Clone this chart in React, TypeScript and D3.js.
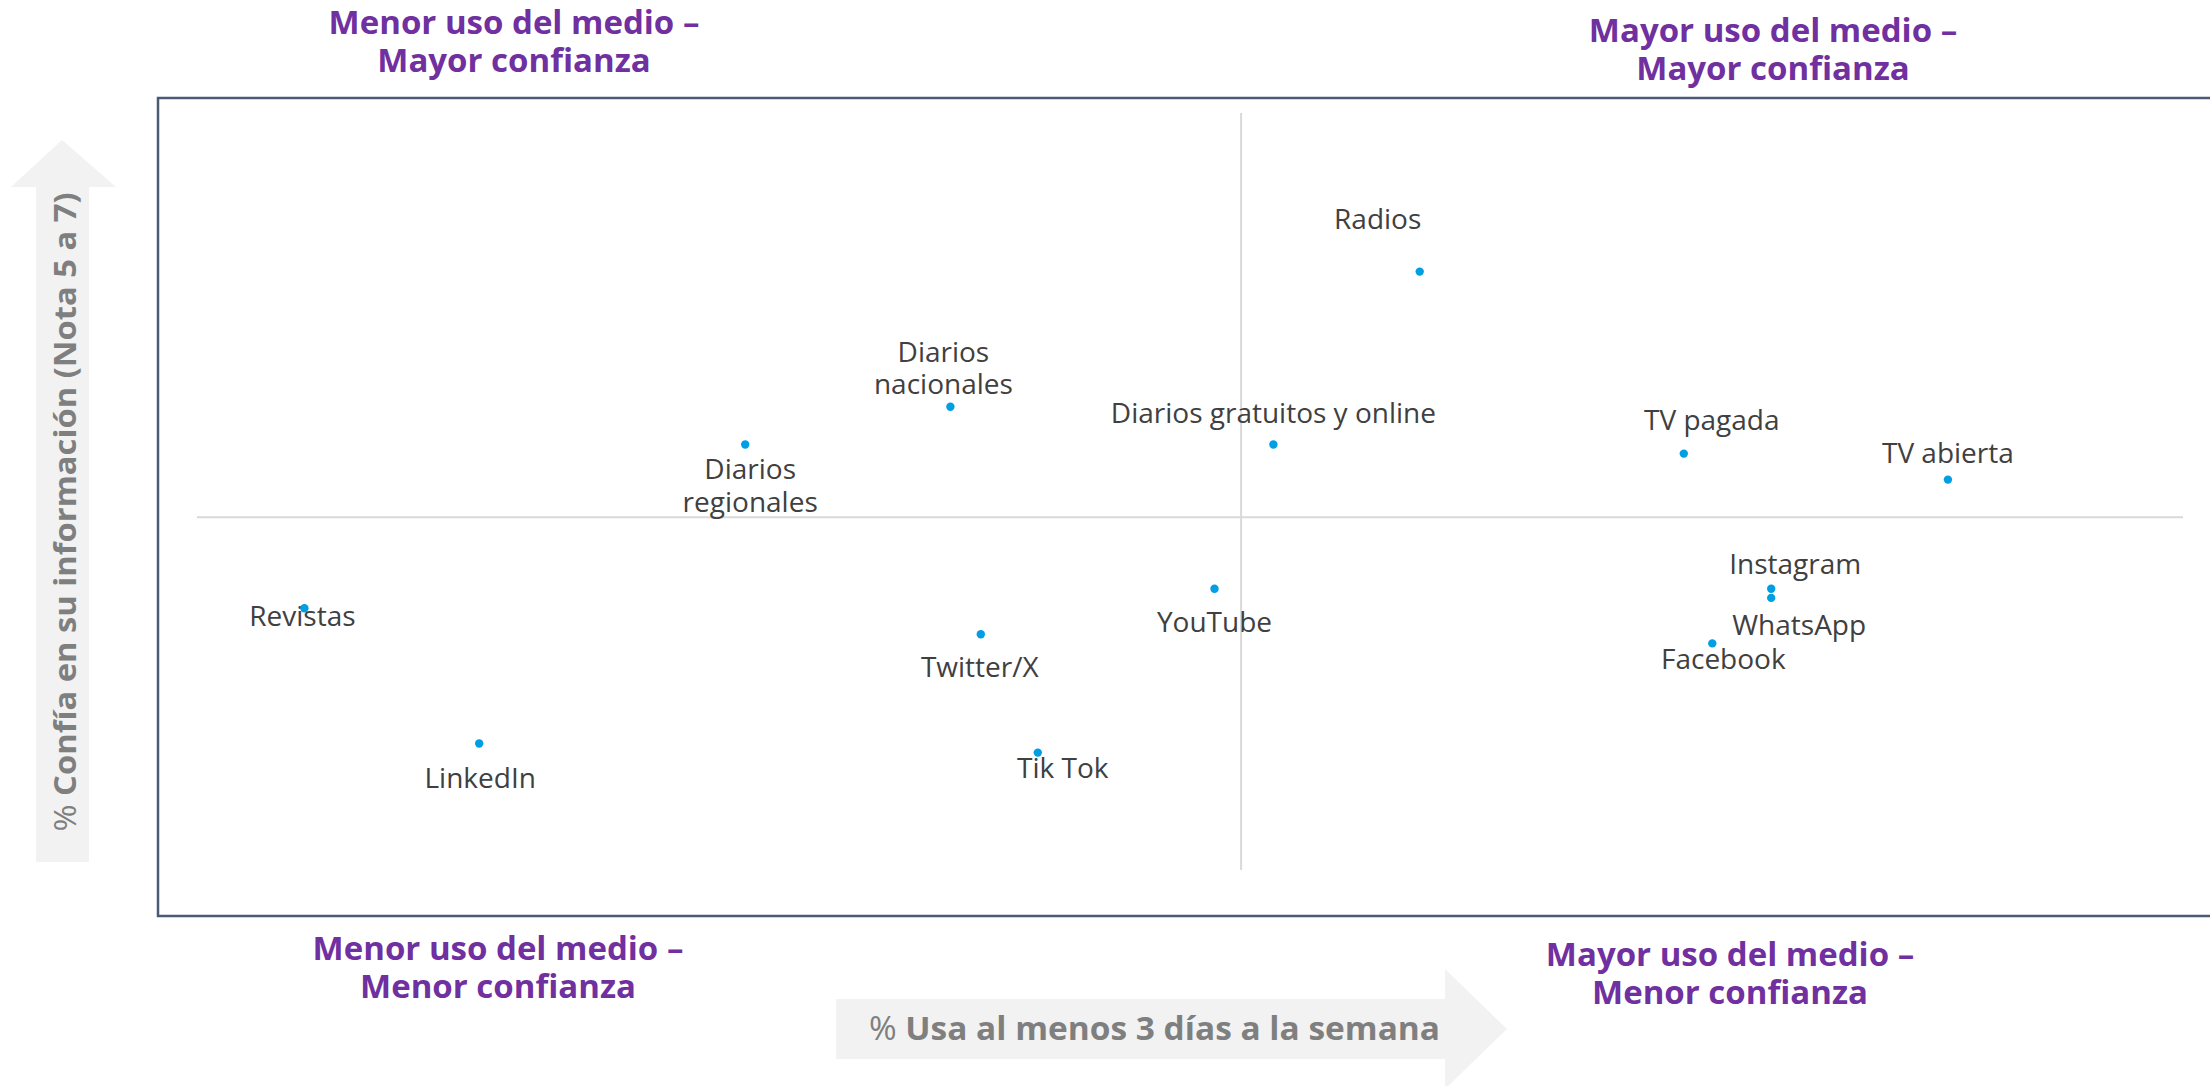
import React from 'react';
import * as d3 from 'd3';

// media names, % usage (>= 3 days a week) and % trust (grade 5 to 7)
const medios = [
  'Radios',
  'Diarios gratuitos y online',
  'TV pagada',
  'TV abierta',
  'Diarios nacionales',
  'Diarios regionales',
  'Instagram',
  'WhatsApp',
  'Facebook',
  'YouTube',
  'Twitter/X',
  'Revistas',
  'LinkedIn',
  'Tik Tok',
];
const usoValues = [66.3, 58.6, 80.2, 94.1, 41.6, 30.8, 84.8, 84.8, 81.7, 55.5, 43.2, 7.6, 16.8, 46.2];
const confianzaValues = [66.8, 53.5, 52.8, 50.8, 56.4, 53.5, 42.4, 41.7, 38.2, 42.4, 38.9, 40.9, 30.5, 29.8];

// reference lines that split the quadrants
const usoRef = 56.9;
const confianzaRef = 47.9;

const quadrantTitles = [
  { lines: ['Menor uso del medio –', 'Mayor confianza'], cx: 514, y: 34 },
  { lines: ['Mayor uso del medio –', 'Mayor confianza'], cx: 1773, y: 42 },
  { lines: ['Menor uso del medio –', 'Menor confianza'], cx: 498, y: 960 },
  { lines: ['Mayor uso del medio –', 'Menor confianza'], cx: 1730, y: 966 },
];

// label placement relative to its dot (px)
const labelLayout: Record<string, { dx: number; dy: number[]; lines?: string[] }> = {
  'Radios': { dx: -42, dy: [-43] },
  'Diarios gratuitos y online': { dx: 0, dy: [-22] },
  'TV pagada': { dx: 28, dy: [-24] },
  'TV abierta': { dx: 0, dy: [-17] },
  'Diarios nacionales': { dx: -7, dy: [-45, -13], lines: ['Diarios', 'nacionales'] },
  'Diarios regionales': { dx: 5, dy: [34, 67], lines: ['Diarios', 'regionales'] },
  'Instagram': { dx: 24, dy: [-15] },
  'WhatsApp': { dx: 28, dy: [37] },
  'Facebook': { dx: 11, dy: [26] },
  'YouTube': { dx: 0, dy: [43] },
  'Twitter/X': { dx: -1, dy: [43] },
  'Revistas': { dx: -2, dy: [18] },
  'LinkedIn': { dx: 1, dy: [44] },
  'Tik Tok': { dx: 25, dy: [25] },
};

const W = 2210;
const H = 1086;
const FONT = "'Open Sans', 'Noto Sans', sans-serif";

export default function App() {
  const x = d3.scaleLinear().domain([0, 100]).range([160, 2060]);
  const y = d3.scaleLinear().domain([20, 80]).range([880, 100]);

  const points = medios.map((name, i) => ({ name, uso: usoValues[i], conf: confianzaValues[i] }));

  return (
    <div style={{ position: 'absolute', left: 0, top: 0 }}>
      <svg width={W} height={H} style={{ display: 'block', background: '#fff' }} fontFamily={FONT}>
        {/* y axis arrow */}
        <polygon points="62,140 116,187 89,187 89,862 36,862 36,187 11,187" fill="#f2f2f2" />
        <text
          transform="translate(64,512) rotate(-90)"
          textAnchor="middle"
          dominantBaseline="central"
          fontSize={31}
          fill="#7f7f7f"
          textLength={639}
          lengthAdjust="spacingAndGlyphs"
        >
          <tspan fontWeight={400}>% </tspan>
          <tspan fontWeight={700}>Confía en su información (Nota 5 a 7)</tspan>
        </text>

        {/* x axis arrow */}
        <polygon points="836,999 1445,999 1445,969 1507,1029 1445,1089 1445,1059 836,1059" fill="#f2f2f2" />
        <text
          x={869}
          y={1040}
          fontSize={32}
          fill="#7f7f7f"
          textLength={571}
          lengthAdjust="spacingAndGlyphs"
        >
          <tspan fontWeight={400}>% </tspan>
          <tspan fontWeight={700}>Usa al menos 3 días a la semana</tspan>
        </text>

        {/* plot frame */}
        <rect x={158} y={98} width={2100} height={818} fill="none" stroke="#4b5a73" strokeWidth={2.5} />

        {/* quadrant split lines */}
        <line x1={x(usoRef)} x2={x(usoRef)} y1={113} y2={870} stroke="#d9d9d9" strokeWidth={2} />
        <line x1={197} x2={2183} y1={y(confianzaRef)} y2={y(confianzaRef)} stroke="#d9d9d9" strokeWidth={2} />

        {/* points and labels */}
        {points.map((p) => {
          const cx = x(p.uso);
          const cy = y(p.conf);
          const lay = labelLayout[p.name];
          const lines = lay.lines ?? [p.name];
          return (
            <g key={p.name}>
              {lines.map((ln, j) => (
                <text
                  key={j}
                  x={cx + lay.dx}
                  y={cy + lay.dy[j]}
                  textAnchor="middle"
                  fontSize={28}
                  fill="#404040"
                >
                  {ln}
                </text>
              ))}
              <circle cx={cx} cy={cy} r={4.2} fill="#009fe3" />
            </g>
          );
        })}

        {/* quadrant titles */}
        {quadrantTitles.map((q, i) => (
          <text key={i} textAnchor="middle" fontSize={33} fontWeight={700} fill="#7030a0">
            {q.lines.map((ln, j) => (
              <tspan key={j} x={q.cx} y={q.y + j * 38}>
                {ln}
              </tspan>
            ))}
          </text>
        ))}
      </svg>
    </div>
  );
}
